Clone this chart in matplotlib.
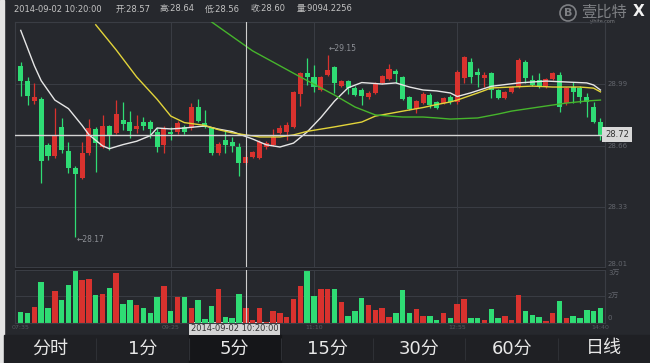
import matplotlib
matplotlib.use("Agg")
import matplotlib.pyplot as plt
from matplotlib.patches import Rectangle, Circle

plt.rcParams['font.family'] = ['DejaVu Sans', 'Noto Sans CJK SC']

# 5 minute candles, 07:35 .. 14:40 (86 bars)
opens = [29.09, 29.01, 28.90, 28.91, 28.665, 28.605, 28.76, 28.63, 28.54, 28.49,
         28.62, 28.75, 28.655, 28.765, 28.73, 28.80, 28.79, 28.75, 28.79, 28.79,
         28.735, 28.665, 28.735, 28.735, 28.76, 28.755, 28.87, 28.785, 28.755, 28.62,
         28.69, 28.68, 28.655, 28.57, 28.60, 28.595, 28.655, 28.665, 28.73, 28.735,
         28.76, 28.94, 29.05, 29.03, 28.96, 29.04, 29.085, 28.98, 29.01, 28.97,
         28.96, 28.92, 28.945, 29.00, 29.02, 29.06, 29.03, 28.92, 28.86, 28.89,
         28.935, 28.895, 28.89, 28.925, 28.895, 29.025, 29.11, 29.057, 29.025, 29.05,
         28.96, 28.917, 28.95, 28.976, 29.11, 29.014, 29.014, 28.976, 29.019, 29.04,
         28.89, 28.976, 28.97, 28.923, 28.87, 28.79]
highs = [29.11, 29.03, 29.00, 28.92, 28.675, 28.865, 28.81, 28.68, 28.55, 28.68,
         28.805, 28.76, 28.825, 28.77, 28.905, 28.895, 28.845, 28.825, 28.815, 28.80,
         28.755, 28.765, 28.76, 28.795, 28.77, 28.89, 28.91, 28.855, 28.76, 28.68,
         28.745, 28.71, 28.675, 28.64, 28.635, 28.69, 28.685, 28.75, 28.77, 28.79,
         28.955, 29.057, 29.13, 29.095, 29.035, 29.15, 29.09, 29.015, 29.015, 28.98,
         28.97, 28.955, 29.005, 29.04, 29.10, 29.075, 29.035, 28.93, 28.905, 28.95,
         28.945, 28.90, 28.925, 28.935, 29.065, 29.14, 29.13, 29.078, 29.057, 29.057,
         28.966, 28.955, 28.981, 29.13, 29.12, 29.04, 29.05, 29.025, 29.057, 29.057,
         28.976, 29.003, 28.981, 28.944, 28.896, 28.81]
lows = [28.93, 28.88, 28.885, 28.46, 28.585, 28.595, 28.62, 28.515, 28.17, 28.48,
        28.61, 28.52, 28.65, 28.64, 28.725, 28.745, 28.70, 28.73, 28.745, 28.70,
        28.625, 28.62, 28.69, 28.725, 28.725, 28.745, 28.79, 28.755, 28.61, 28.61,
        28.62, 28.625, 28.50, 28.56, 28.595, 28.59, 28.645, 28.66, 28.725, 28.69,
        28.755, 28.875, 28.987, 28.95, 28.955, 29.035, 28.945, 28.975, 28.94, 28.93,
        28.88, 28.91, 28.94, 28.99, 29.015, 29.00, 28.905, 28.855, 28.835, 28.885,
        28.865, 28.86, 28.885, 28.885, 28.885, 29.00, 29.00, 28.976, 28.976, 28.917,
        28.912, 28.912, 28.944, 28.97, 29.00, 28.981, 28.97, 28.97, 29.014, 28.842,
        28.88, 28.89, 28.89, 28.815, 28.783, 28.69]
closes = [29.01, 28.93, 28.92, 28.58, 28.605, 28.72, 28.64, 28.54, 28.51, 28.62,
          28.755, 28.675, 28.765, 28.72, 28.83, 28.78, 28.74, 28.765, 28.765, 28.75,
          28.655, 28.755, 28.725, 28.785, 28.735, 28.87, 28.795, 28.76, 28.62, 28.67,
          28.665, 28.66, 28.57, 28.60, 28.625, 28.68, 28.675, 28.71, 28.755, 28.77,
          28.95, 29.05, 29.03, 28.975, 29.03, 29.07, 29.00, 29.01, 28.97, 28.935,
          28.93, 28.945, 29.00, 29.035, 29.075, 29.045, 28.91, 28.86, 28.90, 28.94,
          28.88, 28.865, 28.915, 28.895, 29.055, 29.135, 29.03, 29.04, 29.04, 28.96,
          28.917, 28.95, 28.976, 29.12, 29.025, 28.987, 28.976, 29.019, 29.05, 28.87,
          28.97, 28.95, 28.923, 28.896, 28.79, 28.72]
# volume in 万
volumes = [0.64, 0.58, 0.99, 2.51, 0.93, 1.93, 1.37, 2.34, 3.17, 2.61,
           2.69, 1.72, 1.78, 2.13, 3.06, 1.14, 1.41, 1.06, 0.89, 0.58,
           1.57, 2.28, 0.72, 1.57, 1.57, 0.93, 1.41, 0.23, 1.04, 2.11,
           0.35, 0.29, 1.80, 0.91, 0.14, 0.91, 0.05, 0.70, 0.62, 0.35,
           1.45, 2.28, 3.25, 1.64, 2.07, 2.11, 2.11, 1.28, 0.42, 0.70,
           1.55, 1.08, 0.79, 0.88, 0.35, 0.56, 2.03, 0.56, 0.85, 0.41,
           0.41, 0.14, 0.56, 0.29, 1.12, 1.47, 0.25, 0.25, 0.14, 0.83,
           0.25, 0.41, 0.14, 1.70, 0.70, 0.46, 0.35, 0.10, 0.62, 1.35,
           0.29, 0.41, 0.29, 0.77, 0.72, 0.91]

# moving average lines (bar index, price)
ma_white_i = [0, 2, 3, 5, 7, 9, 10, 12, 13, 15, 17, 19, 20, 22, 24, 27, 29, 31, 34, 36,
              38, 40, 42, 44, 46, 48, 50, 53, 55, 57, 59, 61, 63, 64, 66, 69, 73, 77, 80,
              83, 84, 85]
ma_white = [29.28, 29.09, 29.01, 28.906, 28.86, 28.77, 28.72, 28.66, 28.645, 28.667,
            28.685, 28.715, 28.756, 28.751, 28.756, 28.767, 28.75, 28.737, 28.697, 28.666,
            28.654, 28.675, 28.735, 28.812, 28.90, 28.972, 29.00, 28.992, 28.998, 28.976,
            28.96, 28.955, 28.944, 28.925, 28.945, 28.98, 28.998, 29.008, 29.003, 28.998,
            28.987, 28.96]
ma_yellow_i = [11, 14, 17, 20, 22, 24, 27, 29, 31, 35, 38, 40, 42, 46, 50, 52, 57, 59,
               61, 63, 64, 67, 69, 72, 75, 78, 82, 84, 85]
ma_yellow = [29.31, 29.175, 29.03, 28.91, 28.82, 28.785, 28.77, 28.747, 28.73, 28.708,
             28.708, 28.719, 28.738, 28.762, 28.788, 28.82, 28.853, 28.866, 28.882, 28.896,
             28.906, 28.944, 28.971, 28.976, 28.981, 28.976, 28.976, 28.97, 28.95]
ma_green_i = [28, 34, 41, 46, 49, 52, 56, 59, 61, 63, 67, 70, 72, 77, 80, 83, 85]
ma_green = [29.325, 29.17, 29.03, 28.933, 28.869, 28.826, 28.815, 28.815, 28.81, 28.804,
            28.81, 28.831, 28.847, 28.874, 28.89, 28.901, 28.906]

price_ticks = [28.99, 28.66, 28.33, 28.01]
time_labels = ['07:35', '09:25', '11:10', '12:55', '14:40']
time_idx = [0, 22, 43, 64, 85]
last_price = 28.72
cross_idx = 33
cross_time = '2014-09-02 10:20:00'
header = [('2014-09-02 10:20:00', 14), ('开:28.57', 116), ('高:28.64', 160),
          ('低:28.56', 205), ('收:28.60', 251), ('量:9094.2256', 297)]
tabs = ['分时', '1分', '5分', '15分', '30分', '60分', '日线']
tab_sel = 2

W, H = 650, 363
BG = '#26282d'
RED = '#d8322e'
GREEN = '#2fdc74'
GRID = '#3a3d44'
LBL = '#62656c'

fig = plt.figure(figsize=(W / 100, H / 100), dpi=100, facecolor=BG)


def box(x0, y0, x1, y1):
    return [x0 / W, 1 - y1 / H, (x1 - x0) / W, (y1 - y0) / H]


bg = fig.add_axes([0, 0, 1, 1])
bg.set_xlim(0, W)
bg.set_ylim(H, 0)
bg.axis('off')
bg.add_patch(Rectangle((0, 0), 4, H, color='#e4e4e4'))
bg.add_patch(Rectangle((15, 267), 590, 3, color='#1e1f23'))

# bottom tab bar
bg.add_patch(Rectangle((4, 335), W - 4, H - 335, color='#1f2024'))
tab_w = (W - 4) / len(tabs)
bg.add_patch(Rectangle((4 + tab_sel * tab_w, 335), tab_w, H - 335, color='#151619'))
for k, t in enumerate(tabs):
    if k > 0:
        bg.vlines(4 + k * tab_w, 338, 360, color='#2e3035', lw=0.8)
    bg.text(4 + (k + 0.5) * tab_w, 348.5, t, color='#e8e8e8', fontsize=13,
            ha='center', va='center')

# header
for s, x in header:
    bg.text(x, 9, s, color='#c4c4c4', fontsize=6, va='center')
bg.add_patch(Circle((568, 13), 8, fill=False, ec='#7e8084', lw=1.2))
bg.text(568, 13, 'B', color='#7e8084', fontsize=8, ha='center', va='center', weight='bold')
bg.text(581, 12, '壹比特', color='#7e8084', fontsize=11, va='center')
bg.text(603, 22, 'yibite.com', color='#7e8084', fontsize=3.5, ha='center', va='center')
bg.text(639, 11, 'X', color='#f2f2f2', fontsize=11, ha='center', va='center', weight='bold')

ax = fig.add_axes(box(15, 22, 605, 267))
axv = fig.add_axes(box(15, 270, 605, 322.5))
for a in (ax, axv):
    a.patch.set_alpha(0)
    a.set_xlim(-0.84, 85.67)
    a.set_xticks([])
    a.set_yticks([])
    for sp in a.spines.values():
        sp.set_color(GRID)
        sp.set_linewidth(0.8)
    for i in time_idx[1:4]:
        a.axvline(i, color=GRID, lw=0.7, zorder=0)
ax.set_ylim(28.01, 29.325)
axv.set_ylim(0, 3.26)

for p in price_ticks[:3]:
    ax.axhline(p, color=GRID, lw=0.7, zorder=0)
axv.axhline(3.26 / 2, color=GRID, lw=0.7, zorder=0)

idx = list(range(len(opens)))
colors = [RED if c >= o else GREEN for o, c in zip(opens, closes)]
ax.vlines(idx, lows, highs, colors=colors, lw=0.9, zorder=2)
ax.bar(idx, [max(abs(c - o), 0.006) for o, c in zip(opens, closes)],
       bottom=[min(o, c) for o, c in zip(opens, closes)],
       width=0.74, color=colors, zorder=3)
axv.bar(idx, volumes, width=0.8, color=colors, zorder=2)

ax.plot(ma_white_i, ma_white, color='#e6e6e6', lw=1.0, zorder=4)
ax.plot(ma_yellow_i, ma_yellow, color='#e2d43a', lw=1.0, zorder=4)
ax.plot(ma_green_i, ma_green, color='#46b52c', lw=1.0, zorder=4)

ax.axhline(last_price, color='#d4d4d4', lw=1.0, zorder=5)
ax.axvline(cross_idx, color='#cfcfcf', lw=0.8, zorder=5)
axv.axvline(cross_idx, color='#cfcfcf', lw=0.8, zorder=5)

# extremes
lo = lows.index(min(lows))
hi = highs.index(max(highs))
ax.text(lo + 0.2, lows[lo] - 0.015, '←%.2f' % lows[lo], color='#8d9096', fontsize=5.5,
        va='center', ha='left')
ax.text(hi + 0.2, highs[hi] + 0.035, '←%.2f' % highs[hi], color='#8d9096', fontsize=5.5,
        va='center', ha='left')

# right axis labels
yt = ax.get_yaxis_transform()
for p in price_ticks:
    ax.text(1.005, p, '%.2f' % p, transform=yt, color=LBL, fontsize=5,
            va='bottom' if p == price_ticks[-1] else 'center', ha='left')
ax.text(1.0, last_price, '%.2f' % last_price, transform=yt, color='#303030', fontsize=6,
        va='center', ha='left',
        bbox=dict(boxstyle='square,pad=0.35', fc='#d8d8d8', ec='none'))
vt = axv.get_yaxis_transform()
axv.text(1.005, 3.26, '3万', transform=vt, color=LBL, fontsize=5, va='top', ha='left')
axv.text(1.005, 3.26 / 2, '2万', transform=vt, color=LBL, fontsize=5, va='center', ha='left')
axv.text(1.005, 0.1, '0', transform=vt, color=LBL, fontsize=5, va='bottom', ha='left')

# time labels under volume
xt = axv.get_xaxis_transform()
for i, t in zip(time_idx, time_labels):
    axv.text(i, -0.05, t, transform=xt, color='#55585e', fontsize=4.5, ha='center', va='top')
bg.text(234.5, 328.5, cross_time, color='#333333', fontsize=6, ha='center', va='center',
        bbox=dict(boxstyle='square,pad=0.25', fc='#d4d4d4', ec='none'))

fig.savefig('out.png', dpi=100, facecolor=BG)
